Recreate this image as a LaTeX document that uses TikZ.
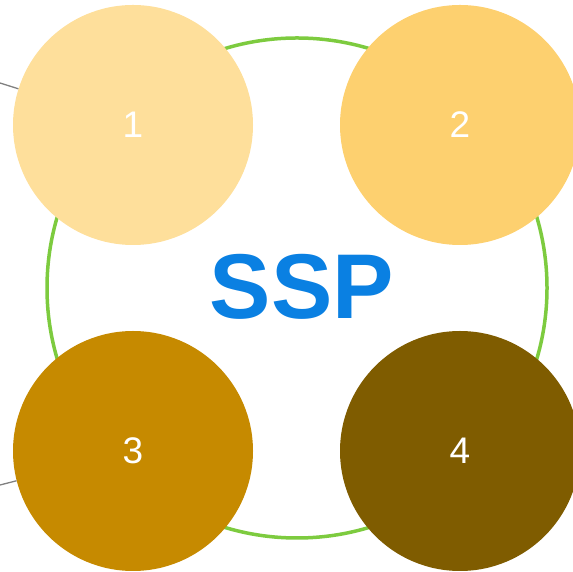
\documentclass[tikz,border=0pt]{standalone}
\usepackage{fontspec}
\setmainfont{Liberation Sans}
\definecolor{ringgreen}{HTML}{7DCB3F}
\definecolor{ssptext}{HTML}{0A80E2}
\definecolor{bubbleA}{HTML}{FEDF9B}
\definecolor{bubbleB}{HTML}{FDD06F}
\definecolor{bubbleC}{HTML}{C68A00}
\definecolor{bubbleD}{HTML}{7F5C00}
\tikzset{
	bubble/.style={circle, minimum size=240pt, inner sep=0pt,
		text=white, font=\fontsize{37}{37}\selectfont},
	feeder/.style={draw=gray, line width=1.3pt}
}
\begin{document}
\begin{tikzpicture}[x=1pt,y=1pt]
	\useasboundingbox (0,0) rectangle (572,572);

	\draw
		[ringgreen, line width=3.5pt] (297,284) circle (250);

	\node (ssp) at (302,285) [text=ssptext, font=\fontsize{92}{92}\selectfont\bfseries] {SSP};

	\node (b1) at (133,447) [bubble, fill=bubbleA] {1};
	\node (b2) at (460,447) [bubble, fill=bubbleB] {2};
	\node (b3) at (133,121) [bubble, fill=bubbleC] {3};
	\node (b4) at (460,121) [bubble, fill=bubbleD] {4};

	\coordinate (in1) at (0,489);
	\coordinate (in3) at (0,87);

	\draw
		[feeder] (in1) -- (b1);

	\draw
		[feeder] (in3) -- (b3);

\end{tikzpicture}
\end{document}
